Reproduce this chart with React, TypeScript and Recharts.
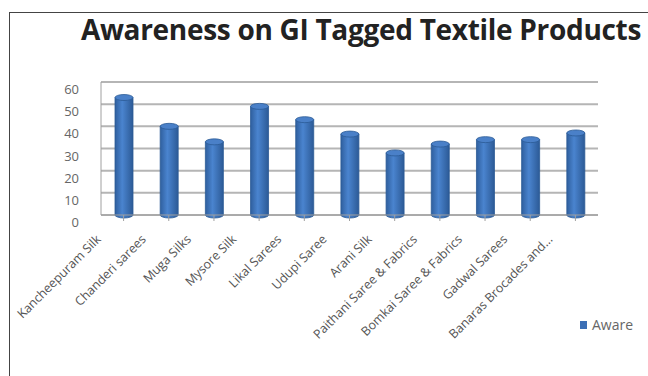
import { BarChart, Bar, XAxis, YAxis, CartesianGrid } from 'recharts';

const products = [
  'Kancheepuram Silk',
  'Chanderi  sarees',
  'Muga Silks',
  'Mysore Silk',
  'Likal Sarees',
  'Udupi Saree',
  'Arani Silk',
  'Paithani Saree & Fabrics',
  'Bomkai Saree & Fabrics',
  'Gadwal Sarees',
  'Banaras Brocades and...',
];
const aware = [53, 40, 33, 49, 43, 36.5, 28, 32, 34, 34, 37];
const yTicks = [0, 10, 20, 30, 40, 50, 60];
const seriesName = 'Aware';

const data = products.map((name, i) => ({ name, Aware: aware[i] }));

const FONT = '"Open Sans", "Liberation Sans", sans-serif';

// cylinder-ish bar: shaded body plus an elliptical cap
function Cylinder(props: any) {
  const { x, y, width, height } = props;
  if (!height || height <= 0) return null;
  const rx = width / 2;
  const ry = 3;
  const cx = x + rx;
  return (
    <g>
      <path
        d={`M${x},${y} L${x},${y + height} A${rx},${ry} 0 0 0 ${x + width},${y + height} L${x + width},${y} Z`}
        fill="url(#cylBody)"
        stroke="#2b5a96"
        strokeWidth={0.8}
      />
      <ellipse cx={cx} cy={y} rx={rx} ry={ry} fill="#4a80c8" stroke="#2b5a96" strokeWidth={0.8} />
    </g>
  );
}

function CategoryTick(props: any) {
  const { x, y, payload } = props;
  return (
    <g transform={`translate(${x - 22},${y + 17}) rotate(-45)`}>
      <text x={0} y={0} textAnchor="end" fontSize={12.5} fill="#555" fontFamily={FONT}>
        {payload.value}
      </text>
    </g>
  );
}

function ValueTick(props: any) {
  const { x, y, payload } = props;
  return (
    <text x={x - 14} y={y + 12} textAnchor="end" fontSize={13} fill="#666" fontFamily={FONT}>
      {payload.value}
    </text>
  );
}

export default function App() {
  return (
    <div style={{ position: 'absolute', left: 0, top: 0, width: 648, height: 376, background: '#fff', overflow: 'hidden' }}>
      <div
        style={{
          position: 'absolute',
          left: 9,
          top: 12,
          width: 700,
          height: 400,
          borderLeft: '1px solid #444',
          borderTop: '1px solid #444',
        }}
      />
      <div
        style={{
          position: 'absolute',
          left: 0,
          width: 722,
          top: 10,
          textAlign: 'center',
          fontFamily: FONT,
          fontWeight: 700,
          fontSize: 28,
          color: '#222',
          letterSpacing: -0.3,
          whiteSpace: 'nowrap',
        }}
      >
        Awareness on GI Tagged Textile Products
      </div>
      <div style={{ position: 'absolute', left: 0, top: 0 }}>
        <BarChart width={648} height={376} data={data} margin={{ top: 82, right: 50, left: 61, bottom: 0 }} barSize={18}>
          <defs>
            <linearGradient id="cylBody" x1="0" y1="0" x2="1" y2="0">
              <stop offset="0%" stopColor="#2f5f9e" />
              <stop offset="40%" stopColor="#4a84cf" />
              <stop offset="100%" stopColor="#2c5a96" />
            </linearGradient>
          </defs>
          <CartesianGrid vertical={false} stroke="#b5b5b5" strokeWidth={2} />
          <XAxis
            dataKey="name"
            interval={0}
            height={161}
            tick={<CategoryTick />}
            stroke="#a0a0a0"
            tickLine={{ stroke: '#a0a0a0' }}
          />
          <YAxis
            domain={[0, 60]}
            ticks={yTicks}
            interval={0}
            width={40}
            tick={<ValueTick />}
            stroke="#a0a0a0"
            tickLine={false}
          />
          <Bar dataKey="Aware" name={seriesName} fill="#3c6fb5" shape={<Cylinder />} isAnimationActive={false} />
        </BarChart>
      </div>
      <div
        style={{
          position: 'absolute',
          left: 580,
          top: 315,
          display: 'flex',
          alignItems: 'center',
          fontFamily: FONT,
          fontSize: 14,
          color: '#666',
        }}
      >
        <span style={{ display: 'inline-block', width: 7, height: 8, background: '#3c6fb5', marginRight: 5 }} />
        {seriesName}
      </div>
    </div>
  );
}
